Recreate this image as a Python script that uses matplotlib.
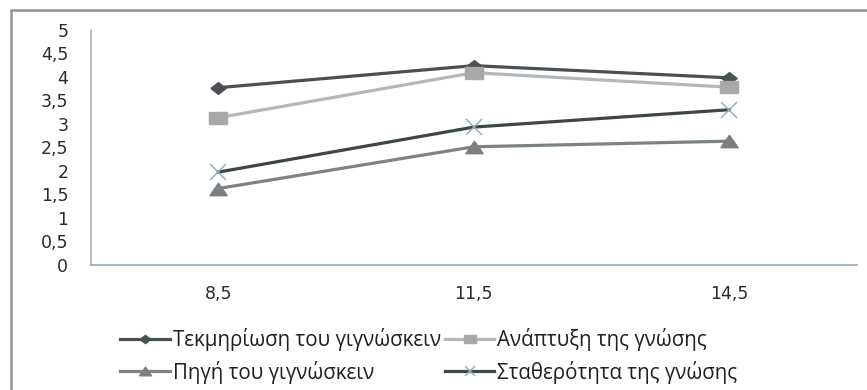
import matplotlib
matplotlib.use("Agg")
import matplotlib.pyplot as plt
from matplotlib.patches import Rectangle

plt.rcParams['font.family'] = ['Open Sans', 'DejaVu Sans']

categories = ["8,5", "11,5", "14,5"]
s_tekm = [3.77, 4.24, 3.98]
s_anapt = [3.13, 4.09, 3.78]
s_pigi = [1.62, 2.51, 2.63]
s_stath = [1.97, 2.93, 3.30]
names = ["Τεκμηρίωση του γιγνώσκειν", "Ανάπτυξη της γνώσης",
         "Πηγή του γιγνώσκειν", "Σταθερότητα της γνώσης"]
yticks = [0, 0.5, 1, 1.5, 2, 2.5, 3, 3.5, 4, 4.5, 5]
ylabels = ["0", "0,5", "1", "1,5", "2", "2,5", "3", "3,5", "4", "4,5", "5"]

# horizontally stretched marker shapes
m_diamond = [(-1.3, 0), (0, 1), (1.3, 0), (0, -1), (-1.3, 0)]
m_square = [(-1.45, -1), (1.45, -1), (1.45, 1), (-1.45, 1), (-1.45, -1)]
m_tri = [(-1.4, -1), (1.4, -1), (0, 1), (-1.4, -1)]

W, H = 867, 390
fig = plt.figure(figsize=(W/100, H/100), dpi=100)
fig.patch.set_facecolor("white")
fig.patches.append(Rectangle((11/W, -0.1), 1.2, 1 - 10/H + 0.1, transform=fig.transFigure,
                             fill=False, edgecolor="#8c9499", linewidth=1.8))

ax = fig.add_axes([90.5/W, 1 - 264.5/H, (857-90.5)/W, (264.5-30)/H])
x = list(range(len(categories)))
l1, = ax.plot(x, s_tekm, color="#4a5154", lw=2.3, marker=m_diamond, ms=11,
              mfc="#4a5154", mec="#4a5154", label=names[0])
l2, = ax.plot(x, s_anapt, color="#b3b7b9", lw=2.3, marker=m_square, ms=13,
              mfc="#a8a8a8", mec="#a8a8a8", label=names[1])
l3, = ax.plot(x, s_pigi, color="#7b8386", lw=2.3, marker=m_tri, ms=12.5,
              mfc="#7b7f80", mec="#7b7f80", label=names[2])
l4, = ax.plot(x, s_stath, color="#3d4649", lw=2.3, marker="x", ms=11, mew=1.1,
              mec="#8fb0c4", label=names[3])

ax.set_xlim(-0.5, 2.5)
ax.set_ylim(0, 5)
ax.set_xticks(x)
ax.set_xticklabels(categories)
ax.set_yticks(yticks)
ax.set_yticklabels(ylabels)
ax.tick_params(length=0, labelsize=12.5, colors="#2b2b2b")
for lab in ax.get_xticklabels() + ax.get_yticklabels():
    lab.set_family(["DejaVu Sans"])
ax.tick_params(axis="y", pad=16)
ax.tick_params(axis="x", pad=15)
for s in ["top", "right"]:
    ax.spines[s].set_visible(False)
ax.spines["left"].set_color("#a9b6bd")
ax.spines["bottom"].set_color("#8fa9c0")
ax.spines["left"].set_linewidth(1.2)
ax.spines["bottom"].set_linewidth(1.2)

handles = [l1, l3, l2, l4]
labels = [h.get_label() for h in handles]
leg = fig.legend(handles, labels, loc="center", bbox_to_anchor=(429/W, 1 - 356/H),
                 ncol=2, frameon=False, fontsize=14.8, handlelength=2.4,
                 handletextpad=0.15, columnspacing=0.2, labelspacing=0.45,
                 borderpad=0.2, markerscale=0.7)
for t in leg.get_texts():
    t.set_color("#1f1f1f")

fig.savefig("out.png", dpi=100)
